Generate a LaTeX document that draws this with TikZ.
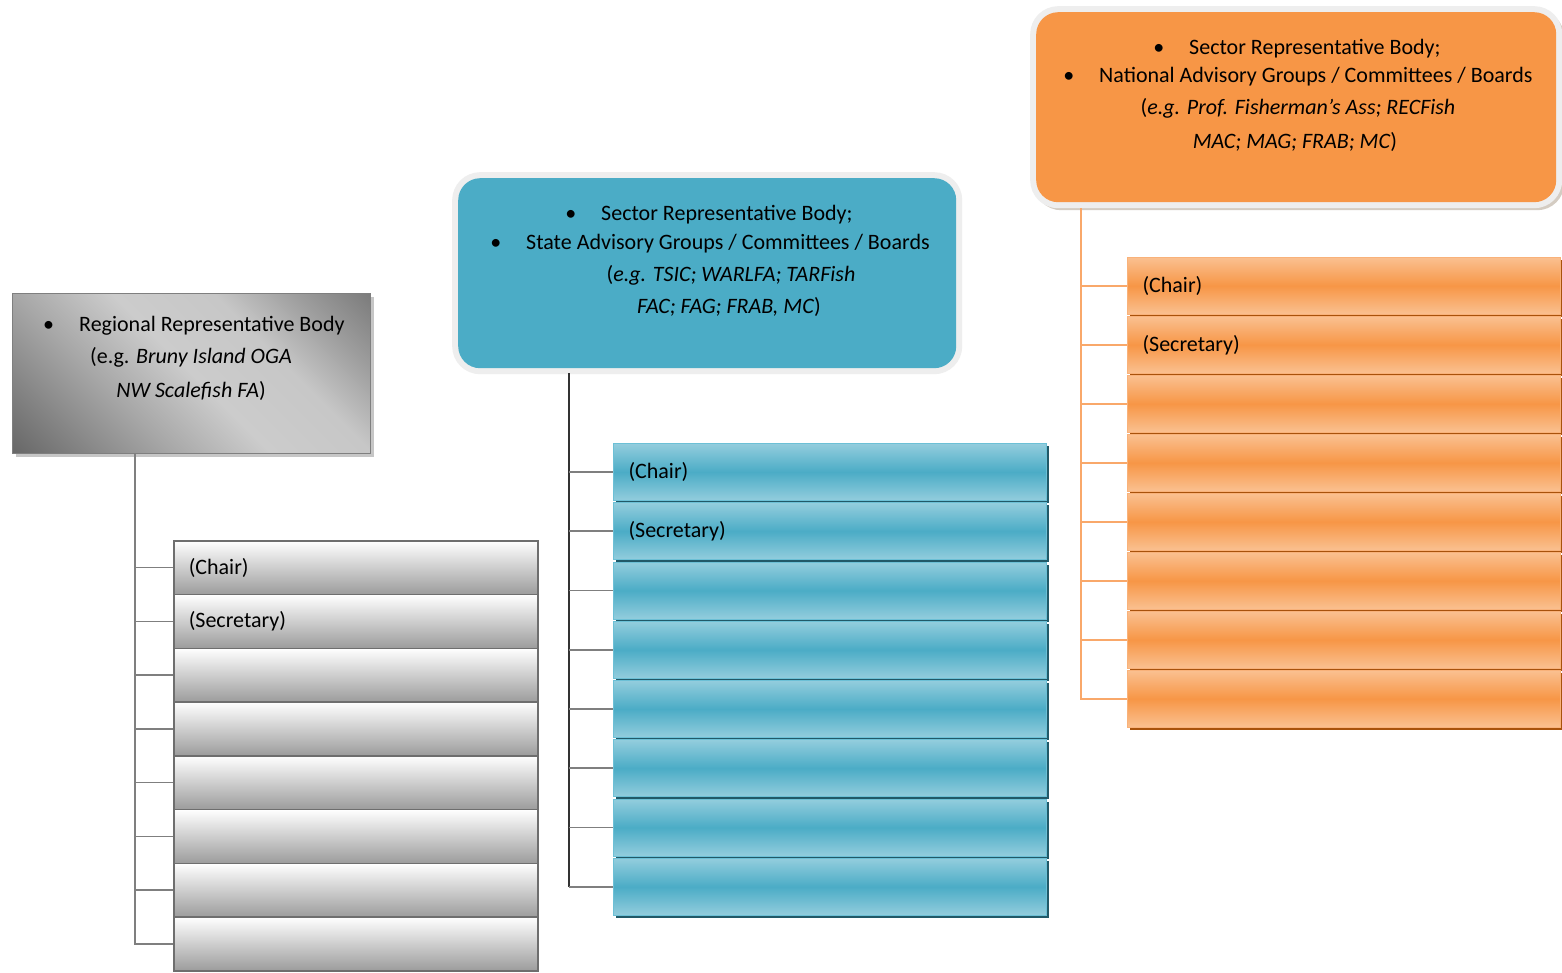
\documentclass[tikz,border=0pt]{standalone}
\usepackage{fontspec}
\setmainfont{Carlito}
\usetikzlibrary{shadows}

\definecolor{gline}{HTML}{7F7F7F}
\definecolor{gbarbot}{HTML}{9C9C9C}
\definecolor{gbarline}{HTML}{6E6E6E}
\definecolor{bfill}{HTML}{4BACC6}
\definecolor{blight}{HTML}{93CDDD}
\definecolor{bedge}{HTML}{6CC0D6}
\definecolor{bshade}{HTML}{215968}
\definecolor{ofill}{HTML}{F79646}
\definecolor{olight}{HTML}{FAC090}
\definecolor{oedge}{HTML}{F9B27A}
\definecolor{oshade}{HTML}{A8520C}
\definecolor{oline}{HTML}{F9A86A}
\definecolor{halo}{HTML}{EEEEEE}
\definecolor{haloshade}{HTML}{D4CCC2}

% grey gradient of the regional header; it is laid along the diagonal
% (the middle 50bp of the shading spans the filled square)
\pgfdeclarehorizontalshading{greydiag}{100bp}{%
  color(0bp)=(black!64); color(25bp)=(black!63); color(27bp)=(black!60);
  color(41bp)=(black!35); color(50bp)=(black!20); color(59bp)=(black!22);
  color(66bp)=(black!38); color(73bp)=(black!52); color(75bp)=(black!55);
  color(100bp)=(black!56)}

\tikzset{
  lbl/.style={font=\fontsize{22}{26}\selectfont, inner sep=0pt},
  barbase/.style={anchor=north west, inner xsep=15pt, inner ysep=0pt,
    align=left, font=\fontsize{22}{26}\selectfont},
  gbar/.style={barbase, minimum width=364pt, text width=334pt,
    minimum height=53.75pt, draw=gbarline, line width=1.5pt,
    top color=white, bottom color=gbarbot},
  bbar/.style={barbase, minimum width=433pt, text width=403pt,
    minimum height=57pt, draw=bedge, line width=1pt,
    top color=blight, bottom color=blight, middle color=bfill,
    general shadow={fill=bshade, shadow xshift=2.5pt, shadow yshift=-2.5pt}},
  obar/.style={barbase, minimum width=433pt, text width=403pt,
    minimum height=56.5pt, draw=oedge, line width=1pt,
    top color=olight, bottom color=olight, middle color=ofill,
    general shadow={fill=oshade, shadow xshift=2pt, shadow yshift=-2.5pt}},
  ghead/.style={anchor=north west, minimum width=358pt, minimum height=160pt,
    draw=gline, line width=1pt,
    general shadow={fill=gray!45, shadow xshift=3pt, shadow yshift=-3pt},
    path picture={
      \fill[shading=greydiag,
        transform canvas={rotate around={45:(path picture bounding box.center)}}]
        ([shift={(-200pt,-200pt)}]path picture bounding box.center)
        rectangle ([shift={(200pt,200pt)}]path picture bounding box.center);
    }},
  halobox/.style={preaction={draw=halo, line width=12pt}},
  rhead/.style={anchor=north west, rounded corners=22pt},
  glink/.style={draw=gline, line width=1.6pt},
  bvert/.style={draw=black!80, line width=1.6pt},
  btick/.style={draw=gline, line width=1.6pt},
  olink/.style={draw=oline, line width=1.6pt},
}

\begin{document}
\begin{tikzpicture}[x=1pt,y=-1pt]
\useasboundingbox[fill=white] (0,0) rectangle (1562,972);

% ---------- regional level ----------
\node[ghead] (ghead) at (12,293) {};
\node[lbl, anchor=base west] (gt1) at (79,331) {\llap{•\hspace{25pt}}Regional Representative Body};
\node[lbl, anchor=base] (gt2) at (191,363) {(e.g. \textit{Bruny Island OGA}};
\node[lbl, anchor=base] (gt3) at (191,397) {\textit{NW Scalefish FA})};

\foreach \i/\t in {1/(Chair),2/(Secretary),3/,4/,5/,6/,7/,8/}
  \node[gbar] (g\i) at (173,{540+53.75*(\i-1)}) {\t};

\coordinate (gtrunk) at ([xshift=123pt]ghead.south west);
\foreach \i in {1,...,8}
  \draw[glink] (gtrunk) |- (g\i.west);

% ---------- state level ----------
\node[rhead, halobox, fill=bfill, minimum width=498pt, minimum height=190pt] (bhead) at (458,178) {};
\node[lbl, anchor=base west] (bt1) at (601,220) {\llap{•\hspace{25pt}}Sector Representative Body;};
\node[lbl, anchor=base west] (bt2) at (526,249) {\llap{•\hspace{25pt}}State Advisory Groups / Committees / Boards};
\node[lbl, anchor=base] (bt3) at (731,281) {(\textit{e.g. TSIC; WARLFA; TARFish}};
\node[lbl, anchor=base] (bt4) at (729,313) {\textit{FAC; FAG; FRAB, MC})};

\foreach \i/\t in {1/(Chair),2/(Secretary),3/,4/,5/,6/,7/,8/}
  \node[bbar] (b\i) at (613,{443+59.25*(\i-1)}) {\t};

\coordinate (btrunk) at ([xshift=111pt,yshift=-5pt]bhead.south west);
\draw[bvert] (btrunk) -- (btrunk |- b8.west);
\foreach \i in {1,...,8}
  \draw[btick] (btrunk |- b\i.west) -- (b\i.west);

% ---------- national level ----------
\node[general shadow={draw=haloshade, line width=10pt, shadow xshift=3pt, shadow yshift=-3pt},
  halobox, rhead, fill=ofill, minimum width=520pt, minimum height=190pt]
  (ohead) at (1036,12) {};
\node[lbl, anchor=base west] (ot1) at (1189,54) {\llap{•\hspace{25pt}}Sector Representative Body;};
\node[lbl, anchor=base west] (ot2) at (1099,82) {\llap{•\hspace{25pt}}National Advisory Groups / Committees / Boards};
\node[lbl, anchor=base] (ot3) at (1298,114) {(\textit{e.g. Prof. Fisherman’s Ass; RECFish}};
\node[lbl, anchor=base] (ot4) at (1295,148) {\textit{MAC; MAG; FRAB; MC})};

\foreach \i/\t in {1/(Chair),2/(Secretary),3/,4/,5/,6/,7/,8/}
  \node[obar] (o\i) at (1127,{257+59*(\i-1)}) {\t};

\coordinate (otrunk) at ([xshift=45pt,yshift=-6pt]ohead.south west);
\foreach \i in {1,...,8}
  \draw[olink] (otrunk) |- (o\i.west);
\end{tikzpicture}
\end{document}
